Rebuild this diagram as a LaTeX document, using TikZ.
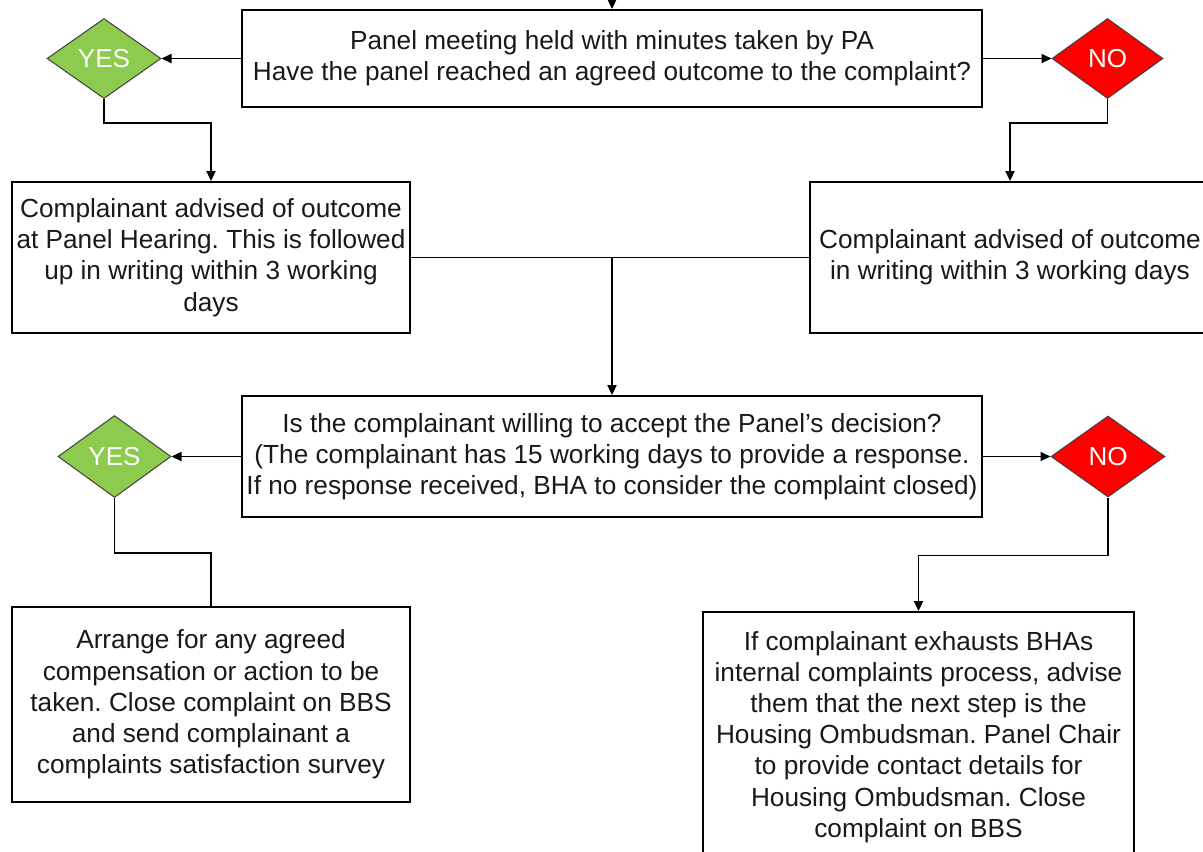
\documentclass[tikz,border=0pt]{standalone}
\usepackage{fontspec}
\setmainfont{Liberation Sans}
\usetikzlibrary{shapes.geometric,arrows.meta}
\definecolor{yesgreen}{HTML}{8DCB4E}
\definecolor{nored}{HTML}{FF0000}
\tikzset{
  box/.style={draw=black, line width=1.9pt, fill=white, inner sep=0pt, align=center,
    font=\fontsize{26.2}{31.2}\selectfont\frenchspacing, text=black!90},
  dia/.style={diamond, draw=black!75, line width=1pt, inner sep=0pt, text=white,
    font=\fontsize{26}{30}\selectfont},
  yesd/.style={dia, fill=yesgreen},
  nod/.style={dia, fill=nored},
  link/.style={line width=1.9pt, draw=black},
  arr/.style={link, -{Triangle[length=10pt,width=9pt]}},
}
\begin{document}
\begin{tikzpicture}[x=1pt,y=-1pt]
\useasboundingbox (0,0) rectangle (1203,852);
\clip (0,0) rectangle (1203,852);
\fill[white] (0,0) rectangle (1203,852);

\node[box, minimum width=740pt, minimum height=97pt] (b1) at (612,58.5)
  {Panel meeting held with minutes taken by PA\\Have the panel reached an agreed outcome to the complaint?};
\node[yesd, minimum width=114pt, minimum height=80pt] (y1) at (104,58.5) {YES};
\node[nod, minimum width=111pt, minimum height=80pt] (n1) at (1107.5,58.5) {NO};

\node[box, minimum width=398pt, minimum height=151pt] (b2) at (211,257.5)
  {Complainant advised of outcome\\at Panel Hearing. This is followed\\up in writing within 3 working\\days};
\node[box, minimum width=400pt, minimum height=151pt] (b3) at (1010,257.5)
  {Complainant advised of outcome\\in writing within 3 working days};

\node[box, minimum width=740pt, minimum height=121pt] (b4) at (612,456.5)
  {Is the complainant willing to accept the Panel’s decision?\\(The complainant has 15 working days to provide a response.\\If no response received, BHA to consider the complaint closed)};
\node[yesd, minimum width=113pt, minimum height=82pt] (y2) at (114.5,456.5) {YES};
\node[nod, minimum width=114pt, minimum height=81pt] (n2) at (1108,456.5) {NO};

\node[box, minimum width=398pt, minimum height=195pt] (b5) at (211,704.5)
  {Arrange for any agreed\\compensation or action to be\\taken. Close complaint on BBS\\and send complainant a\\complaints satisfaction survey};
\node[box, minimum width=431pt, minimum height=250pt] (b6) at (918.5,737)
  {If complainant exhausts BHAs\\internal complaints process, advise\\them that the next step is the\\Housing Ombudsman. Panel Chair\\to provide contact details for\\Housing Ombudsman. Close\\complaint on BBS};

% connectors
\coordinate (top) at (612,-10);
\draw[arr] (top) -- (b1.north);
\draw[arr] (b1.west) -- (y1.east);
\draw[arr] (b1.east) -- (n1.west);
\draw[arr] (y1.south) -- ++(0,24) -| (b2.north);
\draw[arr] (n1.south) -- ++(0,24) -| (b3.north);
\draw[link] (b2.east) -- (b3.west);
\coordinate (j) at (b4.north |- b2.east);
\draw[arr] (j) -- (b4.north);
\draw[arr] (b4.west) -- (y2.east);
\draw[arr] (b4.east) -- (n2.west);
\draw[link] (y2.south) -- ++(0,55) -| (b5.north);
\draw[arr] (n2.south) -- ++(0,58) -| (b6.north);
\end{tikzpicture}
\end{document}
